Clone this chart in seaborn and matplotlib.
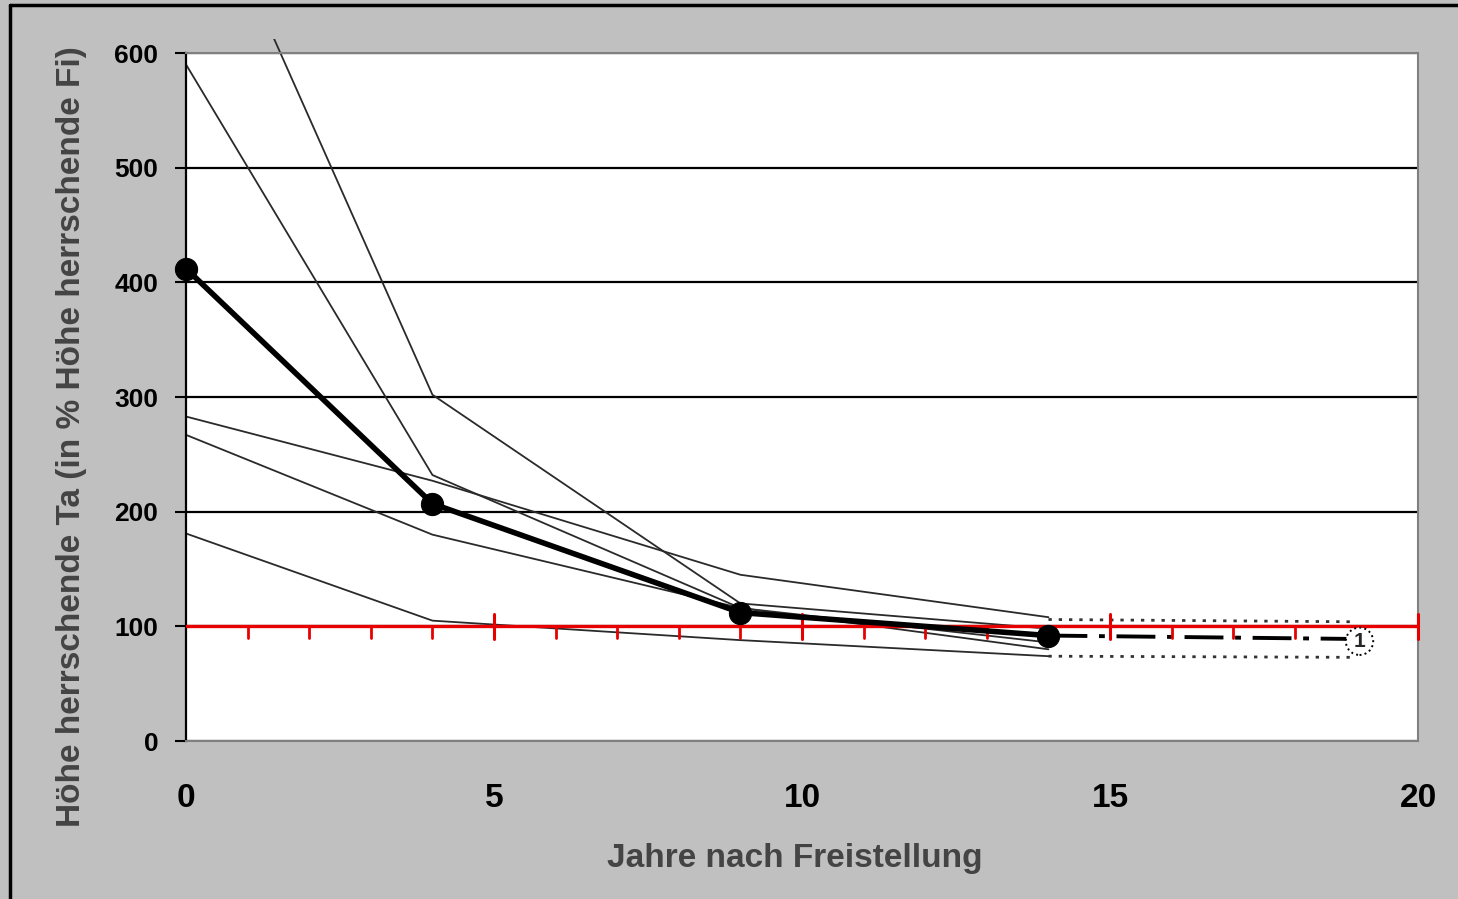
import numpy as np
import pandas as pd
import matplotlib
matplotlib.use("Agg")
import matplotlib.pyplot as plt
from matplotlib.lines import Line2D
from matplotlib.patches import Rectangle
import seaborn as sns

# values (height Ta in % of height Fi)
jahre = [0, 4, 9, 14]
kurve_a = [785, 302, 120, 98]
kurve_b = [590, 232, 116, 86]
kurve_c = [283, 227, 145, 108]
kurve_d = [267, 180, 116, 80]
kurve_e = [181, 105, 88, 74]
mittel = [412, 207, 112, 92]

# dotted / dashed continuation after year 14
jahre_ext = [14, 19]
ext_oben = [106, 104]
ext_unten = [74, 73]
ext_mittel = [92, 89]

referenz = 100
x_ticks = [0, 5, 10, 15, 20]
y_ticks = [0, 100, 200, 300, 400, 500, 600]

sns.set_style("white")
plt.rcParams["font.family"] = ["Liberation Sans", "DejaVu Sans"]
plt.rcParams["font.weight"] = "bold"

fig = plt.figure(figsize=(14.58, 8.99), dpi=100, facecolor="#c0c0c0")
ax = fig.add_axes([0.1276, 0.1757, 0.8450, 0.7653])
ax.set_facecolor("white")

thin = pd.DataFrame({
    "Jahr": jahre * 5,
    "Hoehe": kurve_a + kurve_b + kurve_c + kurve_d + kurve_e,
    "Kurve": sum([[k] * len(jahre) for k in "abcde"], []),
})

# grid first so the lines lie over it
ax.set_axisbelow(True)
ax.grid(axis="y", color="black", lw=1.6)
ax.grid(axis="x", visible=False)

sns.lineplot(data=thin, x="Jahr", y="Hoehe", units="Kurve", estimator=None,
             color="#2a2a2a", lw=1.3, ax=ax, legend=False)

# clip slightly above 600 like the original chart area
clip = Rectangle((0, 0), 20, 612, transform=ax.transData)
for ln in ax.lines:
    ln.set_clip_path(clip)

# extensions
ax.plot(jahre_ext, ext_oben, color="#333333", lw=2.0, ls=(0, (1.2, 2.5)))
ax.plot(jahre_ext, ext_unten, color="#333333", lw=2.0, ls=(0, (1.2, 2.5)))
ax.plot(jahre_ext, ext_mittel, color="black", lw=2.8, ls=(0, (10, 3, 1.5, 3)))

# reference line at 100 % with its little scale
ax.axhline(referenz, color="#e80000", lw=2.4, zorder=3)
for j in np.arange(1, 21):
    if j % 5 == 0:
        ax.plot([j, j], [referenz - 11, referenz + 11], color="#e80000", lw=2.2,
                zorder=3, clip_on=False)
    else:
        ax.plot([j, j], [referenz - 10, referenz], color="#e80000", lw=2.0, zorder=3)

# mean curve with markers
n_before = len(ax.lines)
sns.lineplot(x=jahre, y=mittel, color="black", lw=4, marker="o", markersize=16,
             markeredgecolor="black", ax=ax, zorder=5)
for ln in ax.lines[n_before:]:
    ln.set_clip_on(False)

ax.text(19.05, ext_mittel[-1] - 2, "1", fontsize=15, ha="center", va="center",
        bbox=dict(boxstyle="circle,pad=0.2", fc="white", ec="black", ls=":", lw=1.4))

ax.set_xlim(0, 20)
ax.set_ylim(0, 600)
ax.set_xticks(x_ticks)
ax.set_yticks(y_ticks)
ax.tick_params(axis="x", length=0, pad=30, labelsize=24, labelcolor="black")
ax.tick_params(axis="y", length=8, width=1.5, color="black", pad=12, labelsize=19,
               labelcolor="black", left=True)
for lbl in ax.get_xticklabels() + ax.get_yticklabels():
    lbl.set_fontweight("bold")

for side in ["top", "right", "bottom"]:
    ax.spines[side].set_color("#808080")
    ax.spines[side].set_linewidth(1.5)
ax.spines["left"].set_color("black")
ax.spines["left"].set_linewidth(1.6)

ax.set_xlabel("Jahre nach Freistellung", fontsize=24, fontweight="bold", color="#444444")
ax.set_ylabel("Höhe herrschende Ta (in % Höhe herrschende Fi)", fontsize=24,
              fontweight="bold", color="#444444")
ax.xaxis.set_label_coords(0.494, -0.148)
ax.yaxis.set_label_coords(-0.08, 0.442)

# outer frame of the original chart object
fig.add_artist(Line2D([0.007, 1.0], [0.9944, 0.9944], color="black", lw=2.5,
                      transform=fig.transFigure))
fig.add_artist(Line2D([0.007, 0.007], [0.0, 0.9944], color="black", lw=2.5,
                      transform=fig.transFigure))

fig.savefig("out.png", dpi=100, facecolor=fig.get_facecolor())
